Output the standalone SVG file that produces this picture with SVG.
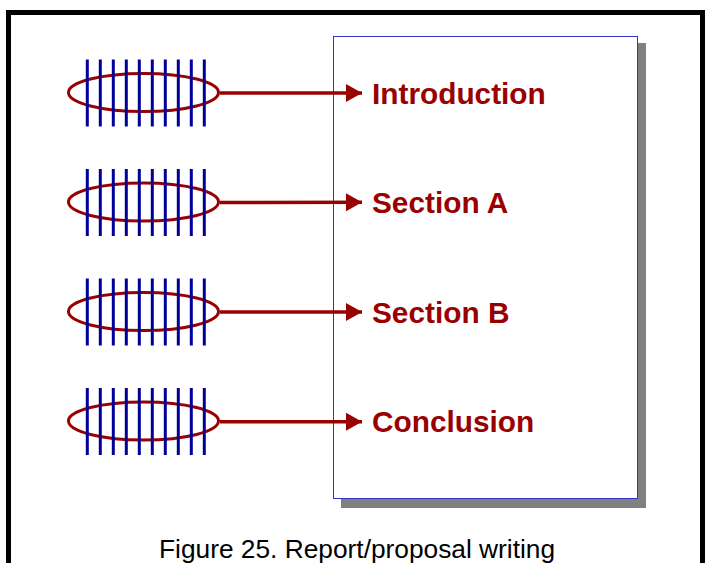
<svg xmlns="http://www.w3.org/2000/svg" width="705" height="563" viewBox="0 0 705 563">
<style>
.frame{fill:none;stroke:#000;stroke-width:5}
.shadow{fill:#808080}
.page{fill:#fff;stroke:#3333cc;stroke-width:1}
.bar{stroke:#000099;stroke-width:3}
.ell{fill:none;stroke:#990000;stroke-width:3}
.conn{stroke:#990000;stroke-width:3.5;fill:none;marker-end:url(#ah)}
.lbl{font-family:"Liberation Sans",Arial,sans-serif;font-weight:bold;font-size:29.8px;fill:#990000}
.cap{font-family:"Liberation Sans",Arial,sans-serif;font-size:26.3px;fill:#000}
</style>
<defs>
<marker id="ah" markerWidth="16" markerHeight="18" refX="16" refY="9" orient="auto" markerUnits="userSpaceOnUse">
<path d="M0,0 L16,9 L0,18 Z" fill="#990000"/>
</marker>
<g id="bars">
<ellipse class="ell" cx="143.5" cy="0" rx="75" ry="19"/>
<line class="bar" x1="87.3" y1="-33" x2="87.3" y2="34"/>
<line class="bar" x1="100.3" y1="-33" x2="100.3" y2="34"/>
<line class="bar" x1="113.3" y1="-33" x2="113.3" y2="34"/>
<line class="bar" x1="126.3" y1="-33" x2="126.3" y2="34"/>
<line class="bar" x1="139.3" y1="-33" x2="139.3" y2="34"/>
<line class="bar" x1="152.3" y1="-33" x2="152.3" y2="34"/>
<line class="bar" x1="165.3" y1="-33" x2="165.3" y2="34"/>
<line class="bar" x1="178.3" y1="-33" x2="178.3" y2="34"/>
<line class="bar" x1="191.3" y1="-33" x2="191.3" y2="34"/>
<line class="bar" x1="204.3" y1="-33" x2="204.3" y2="34"/>
</g>
</defs>
<rect class="frame" x="8.5" y="12.5" width="694" height="600"/>
<g id="page">
<rect class="shadow" x="341" y="43" width="305" height="465"/>
<rect class="page" x="333.5" y="36.5" width="304" height="462"/>
</g>
<g id="source1"><use href="#bars" y="92.5"/></g>
<g id="source2"><use href="#bars" y="202"/></g>
<g id="source3"><use href="#bars" y="311.5"/></g>
<g id="source4"><use href="#bars" y="421"/></g>
<g id="connectors">
<line class="conn" x1="220" y1="93" x2="362" y2="93"/>
<line class="conn" x1="220" y1="202.5" x2="362" y2="202.3"/>
<line class="conn" x1="220" y1="312" x2="362" y2="312"/>
<line class="conn" x1="220" y1="421.7" x2="362" y2="421.7"/>
</g>
<g id="introduction"><text class="lbl" x="372" y="104">Introduction</text></g>
<g id="sectionA"><text class="lbl" x="372" y="213">Section A</text></g>
<g id="sectionB"><text class="lbl" x="372" y="322.5">Section B</text></g>
<g id="conclusion"><text class="lbl" x="372" y="432">Conclusion</text></g>
<text class="cap" x="159" y="558">Figure 25. Report/proposal writing</text>
</svg>
